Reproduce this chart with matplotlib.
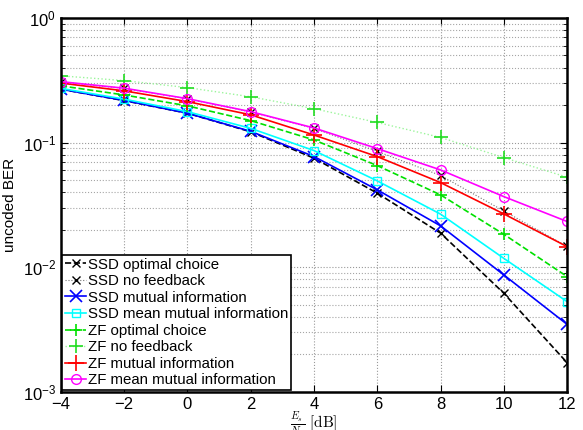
import matplotlib
matplotlib.use("Agg")
import matplotlib.pyplot as plt
import numpy as np

plt.rcParams['font.family'] = ['Liberation Sans', 'DejaVu Sans']
plt.rcParams['mathtext.fontset'] = 'cm'

snr_db = [-4, -2, 0, 2, 4, 6, 8, 10, 12]

ssd_optimal = [0.268, 0.217, 0.172, 0.122, 0.075, 0.0393, 0.0188, 0.0062, 0.00172]
ssd_no_feedback = [0.306, 0.272, 0.224, 0.176, 0.130, 0.0850, 0.0545, 0.0283, 0.0147]
ssd_mutual = [0.268, 0.218, 0.172, 0.123, 0.0773, 0.0418, 0.0215, 0.00869, 0.00349]
ssd_mean_mutual = [0.272, 0.223, 0.177, 0.130, 0.0863, 0.0493, 0.0267, 0.0118, 0.00531]
zf_optimal = [0.285, 0.241, 0.197, 0.150, 0.105, 0.0654, 0.0381, 0.0184, 0.00843]
zf_no_feedback = [0.343, 0.314, 0.276, 0.233, 0.187, 0.145, 0.110, 0.0758, 0.0528]
zf_mutual = [0.300, 0.260, 0.213, 0.167, 0.115, 0.0772, 0.0478, 0.0268, 0.01466]
zf_mean_mutual = [0.308, 0.273, 0.225, 0.177, 0.131, 0.0895, 0.0604, 0.0369, 0.0233]

fig = plt.figure(figsize=(5.83, 4.30), dpi=100)
ax = fig.add_axes([0.1046, 0.0884, 0.868, 0.870])

ax.semilogy(snr_db, ssd_optimal, color='black', ls='--', lw=1.2, marker='x', ms=6, mew=1.0,
            label='SSD optimal choice')
ax.semilogy(snr_db, ssd_no_feedback, color='0.45', ls=':', lw=0.8, marker='x', ms=6, mew=1.0,
            mec='black', label='SSD no feedback')
ax.semilogy(snr_db, ssd_mutual, color='blue', ls='-', lw=1.2, marker='x', ms=9, mew=1.2,
            label='SSD mutual information')
ax.semilogy(snr_db, ssd_mean_mutual, color='cyan', ls='-', lw=1.2, marker='s', ms=6, mew=1.0,
            mfc='none', label='SSD mean mutual information')
ax.semilogy(snr_db, zf_optimal, color='#00e000', ls='--', lw=1.2, marker='+', ms=9, mew=1.2,
            label='ZF optimal choice')
ax.semilogy(snr_db, zf_no_feedback, color='#9cf59c', ls=':', lw=1.0, marker='+', ms=10, mew=1.2,
            mec='#22dd22', label='ZF no feedback')
ax.semilogy(snr_db, zf_mutual, color='red', ls='-', lw=1.2, marker='+', ms=12, mew=1.2,
            label='ZF mutual information')
ax.semilogy(snr_db, zf_mean_mutual, color='magenta', ls='-', lw=1.2, marker='o', ms=7, mew=1.0,
            mfc='none', label='ZF mean mutual information')

ax.set_xlim(-4, 12)
ax.set_ylim(1e-3, 1)
ax.set_xticks([-4, -2, 0, 2, 4, 6, 8, 10, 12])
ax.set_xticklabels(['\u22124', '\u22122', '0', '2', '4', '6', '8', '10', '12'])
ax.tick_params(axis='both', which='both', direction='in', top=True, right=True, labelsize=12)
ax.tick_params(which='major', length=5, width=0.8)
ax.tick_params(which='minor', length=3, width=0.6)
ax.grid(True, which='major', ls=':', color='0.6', lw=0.8)
ax.grid(True, which='minor', axis='y', ls=':', color='0.65', lw=0.8)
for s in ax.spines.values():
    s.set_linewidth(1.8)

ax.set_ylabel('uncoded BER', fontsize=11)
ax.set_xlabel(r'$\frac{E_s}{N_0}\ \mathrm{[dB]}$', fontsize=11, labelpad=-1)

leg = ax.legend(loc='lower left', fontsize=10.8, handlelength=1.4, handletextpad=0.1,
                borderpad=0.2, labelspacing=0.17, borderaxespad=0.1, fancybox=False,
                edgecolor='black', framealpha=1)
leg.get_frame().set_linewidth(1.2)

fig.savefig('out.png', dpi=100)
